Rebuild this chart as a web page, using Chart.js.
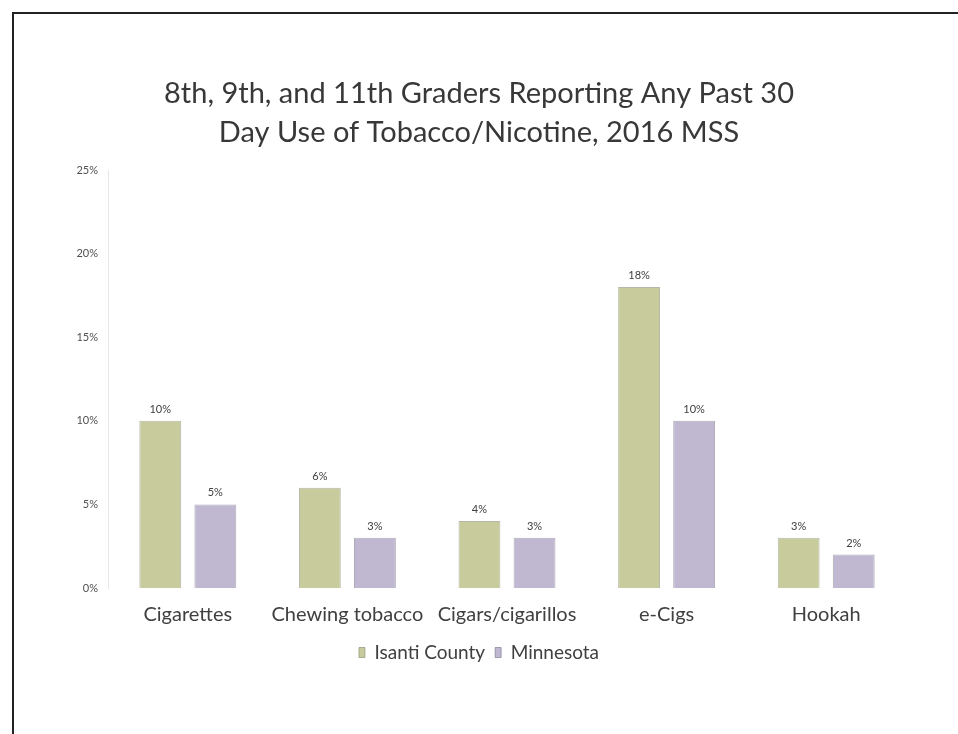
<!DOCTYPE html>
<html>
<head>
<meta charset="utf-8">
<title>Past 30 Day Tobacco/Nicotine Use, 2016 MSS</title>
<script src="https://cdn.jsdelivr.net/npm/chart.js@4.4.1/dist/chart.umd.min.js"></script>
<style>
  html, body { margin: 0; padding: 0; background: #fff; }
  .frame {
    position: absolute; left: 12px; top: 12px; right: 0; bottom: 0;
    border-left: 2px solid #222; border-top: 2px solid #222;
  }
  .chart-container { position: absolute; left: 0; top: 0; width: 958px; height: 734px; }
</style>
</head>
<body>
<div class="frame"></div>
<div class="chart-container">
  <canvas id="chart" width="958" height="734"></canvas>
</div>
<script>
const categories = ['Cigarettes', 'Chewing tobacco', 'Cigars/cigarillos', 'e-Cigs', 'Hookah']
const isantiCounty = [10, 6, 4, 18, 3]
const minnesota = [5, 3, 3, 10, 2]
const yTicks = [0, 5, 10, 15, 20, 25]
const titleLines = ['8th, 9th, and 11th Graders Reporting Any Past 30', 'Day Use of Tobacco/Nicotine, 2016 MSS']

const FONT = "Lato, 'Open Sans', sans-serif"

// prints the percentage above every bar
const barLabels = {
  id: 'barLabels',
  afterDatasetsDraw(chart) {
    const ctx = chart.ctx
    ctx.save()
    ctx.font = '11px ' + FONT
    ctx.fillStyle = '#404040'
    ctx.textAlign = 'center'
    ctx.textBaseline = 'bottom'
    chart.data.datasets.forEach((ds, i) => {
      chart.getDatasetMeta(i).data.forEach((bar, j) => {
        ctx.fillText(ds.data[j] + '%', bar.x, bar.y - 6)
      })
    })
    ctx.restore()
  }
}

const chartConfig = {
  type: 'bar',
  data: {
    labels: categories,
    datasets: [
      {
        label: 'Isanti County',
        data: isantiCounty,
        backgroundColor: '#c8cc9d',
        borderColor: 'rgba(120,124,96,0.55)',
        borderWidth: 1,
      },
      {
        label: 'Minnesota',
        data: minnesota,
        backgroundColor: '#bfb8d0',
        borderColor: 'rgba(110,102,130,0.55)',
        borderWidth: 1,
      },
    ],
  },
  options: {
    responsive: false,
    animation: false,
    layout: { padding: { left: 52, right: 52, top: 74, bottom: 62 } },
    datasets: { bar: { categoryPercentage: 0.69, barPercentage: 0.76 } },
    scales: {
      x: {
        grid: { display: false, drawTicks: false },
        border: { display: false },
        ticks: { color: '#404040', font: { family: FONT, size: 20 }, padding: 15 },
        afterFit(scale) { scale.height = 45 },
      },
      y: {
        min: 0,
        max: 25,
        afterBuildTicks(scale) { scale.ticks = yTicks.map(v => ({ value: v })) },
        grid: { display: false, drawTicks: false },
        border: { display: true, color: '#e6e6e6', width: 1 },
        ticks: {
          color: '#505050',
          font: { family: FONT, size: 11 },
          padding: 10,
          callback: v => v + '%',
        },
        afterFit(scale) { scale.width = 56 },
      },
    },
    plugins: {
      title: {
        display: true,
        text: titleLines,
        color: '#383838',
        font: { family: FONT, size: 29, weight: 'normal', lineHeight: '39px' },
        padding: { top: 0, bottom: 18 },
      },
      legend: {
        position: 'bottom',
        labels: {
          color: '#404040',
          font: { family: FONT, size: 19 },
          boxWidth: 6,
          boxHeight: 10,
          padding: 10,
        },
      },
      tooltip: { enabled: false },
    },
  },
  plugins: [barLabels],
}

new Chart(document.getElementById('chart'), chartConfig)
</script>
</body>
</html>
